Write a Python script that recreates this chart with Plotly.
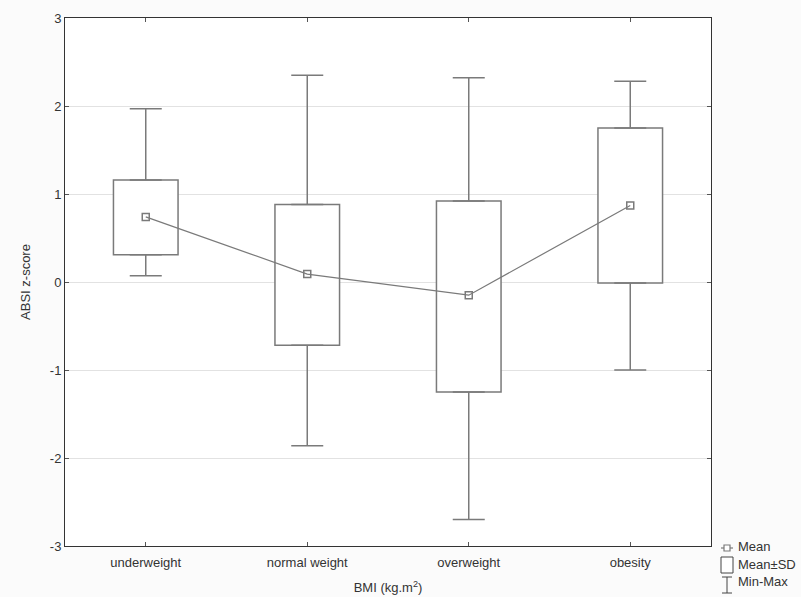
import plotly.graph_objects as go

categories = ["underweight", "normal weight", "overweight", "obesity"]
means = [0.74, 0.09, -0.15, 0.87]
sd_upper = [1.16, 0.88, 0.92, 1.75]   # mean + SD
sd_lower = [0.31, -0.72, -1.25, -0.01]  # mean - SD
maxs = [1.97, 2.35, 2.32, 2.28]
mins = [0.07, -1.86, -2.70, -1.00]
ytick_vals = [-3, -2, -1, 0, 1, 2, 3]
ytick_text = ["-3", "-2", "-1", "0", "1", "2", "3"]

xpos = [i + 0.5 for i in range(len(categories))]
GREY = "#7a7a7a"
FONT = "Liberation Sans, Arial, sans-serif"
FS = 13

fig = go.Figure()

# Mean ± SD boxes
fig.add_trace(go.Bar(
    x=xpos, y=[u - l for u, l in zip(sd_upper, sd_lower)], base=sd_lower,
    width=0.4, marker=dict(color="white", line=dict(color=GREY, width=1.5)),
    showlegend=False, hoverinfo="skip"))

# Upper whiskers (box top -> max)
fig.add_trace(go.Scatter(
    x=xpos, y=sd_upper, mode="markers", marker=dict(size=1, opacity=0),
    error_y=dict(type="data", symmetric=False,
                 array=[m - u for m, u in zip(maxs, sd_upper)],
                 arrayminus=[0] * 4, color=GREY, thickness=1.5, width=16),
    showlegend=False, hoverinfo="skip"))

# Lower whiskers (min -> box bottom)
fig.add_trace(go.Scatter(
    x=xpos, y=sd_lower, mode="markers", marker=dict(size=1, opacity=0),
    error_y=dict(type="data", symmetric=False,
                 array=[0] * 4,
                 arrayminus=[l - m for l, m in zip(sd_lower, mins)],
                 color=GREY, thickness=1.5, width=16),
    showlegend=False, hoverinfo="skip"))

# Means
fig.add_trace(go.Scatter(
    x=xpos, y=means, mode="lines+markers",
    line=dict(color=GREY, width=1.2),
    marker=dict(symbol="square-open", size=7, color=GREY, line=dict(width=1.5)),
    showlegend=False))

FW, FH = 801, 597
L, R, T, B = 65, 711, 18, 546
W, H = R - L, B - T
def px(x):
    return (x - L) / W
def py(y):
    return (B - y) / H

shapes = []
lc = dict(color=GREY, width=1.2)
# Mean symbol
shapes.append(dict(type="line", xref="paper", yref="paper",
                   x0=px(721), x1=px(733), y0=py(548), y1=py(548), line=lc))
shapes.append(dict(type="rect", xref="paper", yref="paper",
                   x0=px(724), x1=px(730), y0=py(545), y1=py(551),
                   line=dict(color=GREY, width=1.2), fillcolor="white"))
# Mean±SD symbol
shapes.append(dict(type="rect", xref="paper", yref="paper",
                   x0=px(721), x1=px(733), y0=py(557), y1=py(573),
                   line=dict(color="#444", width=1), fillcolor="white"))
# Min-Max symbol
shapes.append(dict(type="line", xref="paper", yref="paper",
                   x0=px(727), x1=px(727), y0=py(577), y1=py(593), line=dict(color="#444", width=1)))
shapes.append(dict(type="line", xref="paper", yref="paper",
                   x0=px(722), x1=px(732), y0=py(577), y1=py(577), line=dict(color="#444", width=1)))
shapes.append(dict(type="line", xref="paper", yref="paper",
                   x0=px(722), x1=px(732), y0=py(593), y1=py(593), line=dict(color="#444", width=1)))

annotations = []
for label, yy in [("Mean", 546), ("Mean±SD", 564), ("Min-Max", 581)]:
    annotations.append(dict(text=label, xref="paper", yref="paper",
                            x=px(736), y=py(yy), xanchor="left", yanchor="middle",
                            showarrow=False, font=dict(family=FONT, size=FS, color="#333")))

fig.update_layout(
    width=FW, height=FH,
    margin=dict(l=L, r=FW - R, t=T, b=FH - B),
    paper_bgcolor="#fbfbfb", plot_bgcolor="white",
    font=dict(family=FONT, size=FS, color="#333"),
    shapes=shapes, annotations=annotations,
    showlegend=False,
    xaxis=dict(range=[0, 4], tickvals=xpos, ticktext=categories,
               showgrid=False, zeroline=False, automargin=False,
               showline=True, linecolor="#333", linewidth=1, mirror="ticks",
               ticks="inside", ticklen=4, tickcolor="#555",
               ticklabelstandoff=4,
               title=dict(text="BMI (kg.m<sup>2</sup>)", standoff=14,
                          font=dict(family=FONT, size=FS, color="#333"))),
    yaxis=dict(range=[-3, 3], tickvals=ytick_vals, ticktext=ytick_text,
               showgrid=True, gridcolor="#e2e2e2", gridwidth=1, zeroline=False,
               automargin=False,
               showline=True, linecolor="#333", linewidth=1, mirror="ticks",
               ticks="inside", ticklen=4, tickcolor="#555",
               title=dict(text="ABSI z-score", standoff=16,
                          font=dict(family=FONT, size=FS, color="#333"))),
)

fig.write_html("out.html", config={"displayModeBar": False},
               post_script="document.body.style.margin='0';document.body.style.overflow='hidden';")
